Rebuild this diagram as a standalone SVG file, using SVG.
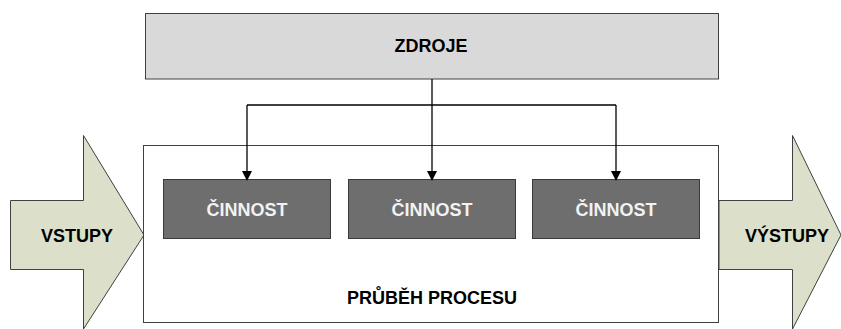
<svg xmlns="http://www.w3.org/2000/svg" width="841" height="329" viewBox="0 0 841 329">
<style>
.t{font-family:"Liberation Sans",Arial,sans-serif;font-weight:bold;font-size:18px;text-anchor:middle;fill:#000}
.w{fill:#f2f2f2}
.arrow{fill:#dcdfc9;stroke:#404040;stroke-width:1}
.act{fill:#6e6e6e;stroke:#3a3a3a;stroke-width:1}
.conn{fill:none;stroke:#000;stroke-width:1.3}
</style>
<defs>
<marker id="ah" markerWidth="10" markerHeight="10" refX="8" refY="5" orient="auto" markerUnits="userSpaceOnUse">
<path d="M0,0 L10,5 L0,10 Z" fill="#000"/>
</marker>
</defs>
<g id="vstupy">
<path class="arrow" d="M10.5,200.5 H83.5 V135.5 L144,235 L83.5,329 V269.5 H10.5 Z"/>
<text class="t" x="77" y="242">VSTUPY</text>
</g>
<g id="vystupy">
<path class="arrow" d="M719,200.5 H792.5 V135.5 L841,235 L792.5,329 V269.5 H719 Z"/>
<text class="t" x="787" y="242">VÝSTUPY</text>
</g>
<g id="proces">
<rect x="143.5" y="145.5" width="575" height="177" fill="#fff" stroke="#404040" stroke-width="1"/>
<text class="t" x="432" y="304">PRŮBĚH PROCESU</text>
</g>
<g id="zdroje">
<rect x="145.5" y="13.5" width="573" height="65.5" fill="#d9d9d9" stroke="#404040" stroke-width="1"/>
<text class="t" x="431" y="52">ZDROJE</text>
</g>
<g id="cinnost1">
<rect class="act" x="163.5" y="179.5" width="167" height="59"/>
<text class="t w" x="247" y="216">ČINNOST</text>
</g>
<g id="cinnost2">
<rect class="act" x="348.5" y="179.5" width="167" height="59"/>
<text class="t w" x="432" y="216">ČINNOST</text>
</g>
<g id="cinnost3">
<rect class="act" x="532.5" y="179.5" width="167" height="59"/>
<text class="t w" x="616" y="216">ČINNOST</text>
</g>
<g id="connectors">
<path class="conn" d="M432,79 V105"/>
<path class="conn" d="M247,105 H616"/>
<path class="conn" d="M247,105 V179" marker-end="url(#ah)"/>
<path class="conn" d="M432,105 V179" marker-end="url(#ah)"/>
<path class="conn" d="M616,105 V179" marker-end="url(#ah)"/>
</g>
</svg>
